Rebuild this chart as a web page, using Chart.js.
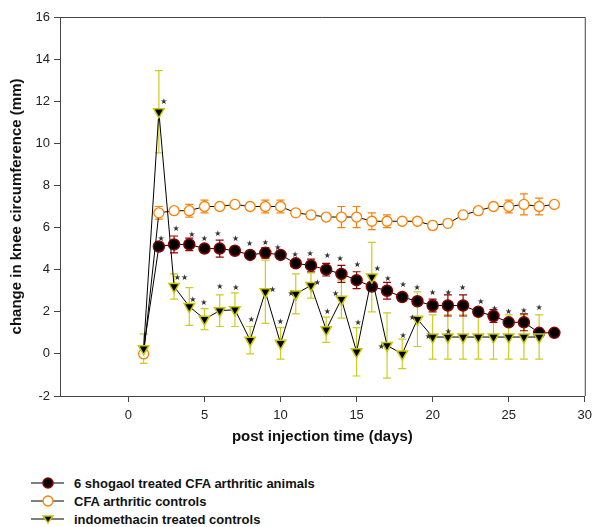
<!DOCTYPE html>
<html>
<head>
<meta charset="utf-8">
<script src="https://cdn.jsdelivr.net/npm/chart.js@4"></script>
<style>
  body { margin: 0; background: #fff; font-family: "Liberation Sans", Arial, sans-serif; }
  #wrap { position: relative; width: 598px; height: 527px; }
  #chartBox { position: absolute; left: 0; top: 0; width: 598px; height: 446px; }
  #legend { position: absolute; left: 30px; top: 474px; }
  .row { display: flex; align-items: center; height: 18px; font-weight: bold; font-size: 13px; color: #111; }
  .row svg { margin-right: 10px; }
</style>
</head>
<body>
<div id="wrap">
  <div id="chartBox"><canvas id="c" width="598" height="446"></canvas></div>
  <div id="legend"></div>
</div>
<script>
/* =========================
   DATA
========================= */

const days = [1, 2, 3, 4, 5, 6, 7, 8, 9, 10, 11, 12, 13, 14, 15, 16, 17, 18, 19, 20, 21, 22, 23, 24, 25, 26, 27, 28];

const shogaolMean = [0.25, 5.1, 5.2, 5.2, 5.0, 5.0, 4.9, 4.7, 4.8, 4.7, 4.3, 4.2, 4.0, 3.8, 3.5, 3.2, 3.0, 2.7, 2.5, 2.3, 2.3, 2.3, 2.0, 1.8, 1.5, 1.5, 1.0, 1.0];
const shogaolErr = [0, 0.1, 0.4, 0.3, 0.1, 0.4, 0.1, 0.1, 0.25, 0.1, 0.1, 0.3, 0.3, 0.4, 0.4, 0.1, 0.4, 0.1, 0.1, 0.3, 0.5, 0.5, 0.1, 0.3, 0.1, 0.4, 0.1, 0.1];

const cfaMean = [0.0, 6.7, 6.8, 6.8, 7.0, 7.0, 7.1, 7.0, 7.0, 7.0, 6.7, 6.6, 6.5, 6.5, 6.5, 6.3, 6.3, 6.3, 6.3, 6.1, 6.2, 6.6, 6.8, 7.0, 7.0, 7.1, 7.0, 7.1];
const cfaErr = [0, 0.3, 0.1, 0.3, 0.3, 0.1, 0.1, 0.1, 0.3, 0.3, 0.1, 0.1, 0.1, 0.5, 0.5, 0.4, 0.3, 0.1, 0.1, 0.2, 0.1, 0.1, 0.1, 0.1, 0.3, 0.5, 0.4, 0.1];

const indoDays = [1, 2, 3, 4, 5, 6, 7, 8, 9, 10, 11, 12, 13, 14, 15, 16, 17, 18, 19, 20, 21, 22, 23, 24, 25, 26, 27];
const indoMean = [0.25, 11.5, 3.2, 2.25, 1.65, 2.05, 2.1, 0.65, 2.95, 0.5, 2.85, 3.25, 1.15, 2.6, 0.1, 3.65, 0.4, 0.0, 1.65, 0.8, 0.8, 0.8, 0.8, 0.8, 0.8, 0.8, 0.8];
const indoErr = [0.7, 1.95, 0.6, 0.9, 0.5, 0.75, 0.8, 0.65, 1.5, 0.75, 0.95, 0.6, 0.6, 0.9, 1.15, 1.65, 1.55, 0.7, 1.3, 1.05, 1.05, 1.05, 1.05, 1.05, 1.05, 1.05, 1.05];

// significance marks: [day position, value position, text]
const shogaolStars = [
  [2.14, 5.46, "★"], [3.14, 5.92, "★"], [4.16, 5.66, "★"], [4.99, 5.46, "★"], [5.88, 5.68, "★"],
  [7.04, 5.45, "★"], [7.97, 5.21, "★"], [9.0, 5.26, "★"], [9.82, 5.05, "★"], [10.95, 4.7, "★"],
  [11.94, 4.75, "★"], [13.07, 4.65, "★"], [13.92, 4.5, "★"], [15.05, 4.23, "★"], [16.36, 4.04, "★"],
  [17.06, 3.55, "★"], [18.06, 3.28, "★"], [18.97, 3.12, "★"], [20.0, 2.88, "★"], [21.03, 2.88, "★"],
  [21.96, 3.12, "★"], [23.16, 2.45, "★"], [24.07, 2.14, "★"], [24.99, 1.98, "★"], [25.99, 2.04, "★"],
  [26.99, 2.2, "★"]
];
const indoStars = [
  [2.33, 11.95, "★"], [3.45, 3.62, "★★"], [4.23, 2.58, "★"], [4.95, 2.42, "★"], [6.01, 3.18, "★"],
  [7.06, 3.13, "★"], [8.08, 1.61, "★"], [9.48, 3.04, "★"], [9.98, 1.51, "★"], [10.7, 2.83, "★"],
  [12.42, 3.36, "★"], [13.07, 1.98, "★"], [13.61, 2.83, "★"], [15.1, 1.46, "★"], [16.62, 0.35, "★"],
  [18.06, 0.85, "★"], [18.67, 1.7, "★"], [19.72, 0.82, "★"], [21.03, 1.03, "★"]
];

const xTicks = [0, 5, 10, 15, 20, 25, 30];
const yTicks = [-2, 0, 2, 4, 6, 8, 10, 12, 14, 16];

const labels = ["6 shogaol treated CFA arthritic animals", "CFA arthritic controls", "indomethacin treated controls"];

/* =========================
   PLUGINS
========================= */

const errorBars = {
  id: "errorBars",
  beforeDatasetsDraw(chart) {
    const { ctx, scales: { x, y } } = chart;
    chart.data.datasets.forEach(ds => {
      if (!ds.err) return;
      ctx.save();
      ctx.strokeStyle = ds.errColor;
      ctx.lineWidth = 1.2;
      ds.data.forEach((p, i) => {
        const e = ds.err[i];
        if (!e) return;
        const px = x.getPixelForValue(p.x);
        const top = y.getPixelForValue(p.y + e);
        const bot = y.getPixelForValue(p.y - e);
        ctx.beginPath();
        ctx.moveTo(px, top); ctx.lineTo(px, bot);
        ctx.moveTo(px - 4, top); ctx.lineTo(px + 4, top);
        ctx.moveTo(px - 4, bot); ctx.lineTo(px + 4, bot);
        ctx.stroke();
      });
      ctx.restore();
    });
  }
};

const frameAndStars = {
  id: "frameAndStars",
  afterDatasetsDraw(chart) {
    const { ctx, chartArea: a, scales: { x, y } } = chart;
    ctx.save();
    ctx.strokeStyle = "#444";
    ctx.lineWidth = 1;
    ctx.beginPath();
    ctx.moveTo(a.left, a.top + 0.5); ctx.lineTo(a.right + 0.5, a.top + 0.5);
    ctx.lineTo(a.right + 0.5, a.bottom);
    ctx.stroke();

    ctx.fillStyle = "#333";
    ctx.font = "8px 'DejaVu Sans'";
    ctx.textAlign = "center";
    ctx.textBaseline = "middle";
    shogaolStars.concat(indoStars).forEach(([d, v, t]) => {
      ctx.fillText(t, x.getPixelForValue(d), y.getPixelForValue(v));
    });
    ctx.restore();
  }
};

/* =========================
   CHART
========================= */

const toPts = (xs, ys) => xs.map((d, i) => ({ x: d, y: ys[i] }));
const tickFont = { family: "'Liberation Sans', Arial, sans-serif", size: 13 };
const titleFont = { family: "'Liberation Sans', Arial, sans-serif", size: 15, weight: "bold" };

new Chart(document.getElementById("c"), {
  type: "line",
  data: {
    datasets: [
      {
        label: labels[2],
        data: toPts(indoDays, indoMean),
        err: indoErr,
        errColor: "#cccc22",
        borderColor: "#000",
        borderWidth: 1,
        pointStyle: "triangle",
        rotation: 180,
        pointRadius: 6,
        pointBackgroundColor: "#000",
        pointBorderColor: "#c8c800",
        pointBorderWidth: 1.5,
        order: 1
      },
      {
        label: labels[1],
        data: toPts(days, cfaMean),
        err: cfaErr,
        errColor: "#ff8000",
        borderColor: "#000",
        borderWidth: 1,
        pointRadius: 5,
        pointBackgroundColor: "#fff",
        pointBorderColor: "#ff8000",
        pointBorderWidth: 1.3,
        order: 2
      },
      {
        label: labels[0],
        data: toPts(days, shogaolMean),
        err: shogaolErr,
        errColor: "#990000",
        borderColor: "#000",
        borderWidth: 1,
        pointRadius: ctx => ctx.dataIndex === 0 ? 0 : 5.5,
        pointBackgroundColor: "#000",
        pointBorderColor: "#8b0000",
        pointBorderWidth: 1.5,
        order: 3
      }
    ]
  },
  options: {
    responsive: false,
    animation: false,
    layout: { padding: { top: 17, right: 10, left: 8, bottom: 0 } },
    plugins: { legend: { display: false }, tooltip: { enabled: false } },
    scales: {
      x: {
        type: "linear",
        min: -4.5,
        max: 30,
        afterBuildTicks: s => { s.ticks = xTicks.map(v => ({ value: v })); },
        afterFit: s => { s.height = 50; },
        grid: { drawOnChartArea: false, tickLength: 6, color: "#444" },
        border: { color: "#444" },
        ticks: { font: tickFont, color: "#222", padding: 6, maxRotation: 0 },
        title: { display: true, text: "post injection time (days)", font: titleFont, color: "#111", padding: 0 }
      },
      y: {
        min: -2,
        max: 16,
        afterBuildTicks: s => { s.ticks = yTicks.map(v => ({ value: v })); },
        afterFit: s => { s.width = 52; },
        grid: { drawOnChartArea: false, tickLength: 6, color: "#444" },
        border: { color: "#444" },
        ticks: { font: tickFont, color: "#222", padding: 4 },
        title: { display: true, text: "change in knee circumference (mm)", font: titleFont, color: "#111", padding: 0 }
      }
    }
  },
  plugins: [errorBars, frameAndStars]
});

/* =========================
   LEGEND
========================= */

const legendMarks = [
  '<circle cx="18" cy="8" r="5" fill="#000" stroke="#8b0000" stroke-width="1.5"/>',
  '<circle cx="18" cy="8" r="5" fill="#fff" stroke="#ff8000" stroke-width="1.3"/>',
  '<polygon points="13,5 23,5 18,12" fill="#000" stroke="#c8c800" stroke-width="1.5"/>'
];

document.getElementById("legend").innerHTML = labels.map((t, i) => `
  <div class="row">
    <svg width="34" height="16"><line x1="1" y1="8" x2="34" y2="8" stroke="#000" stroke-width="1.2"/>${legendMarks[i]}</svg>
    <span>${t}</span>
  </div>
`).join("");
</script>
</body>
</html>
